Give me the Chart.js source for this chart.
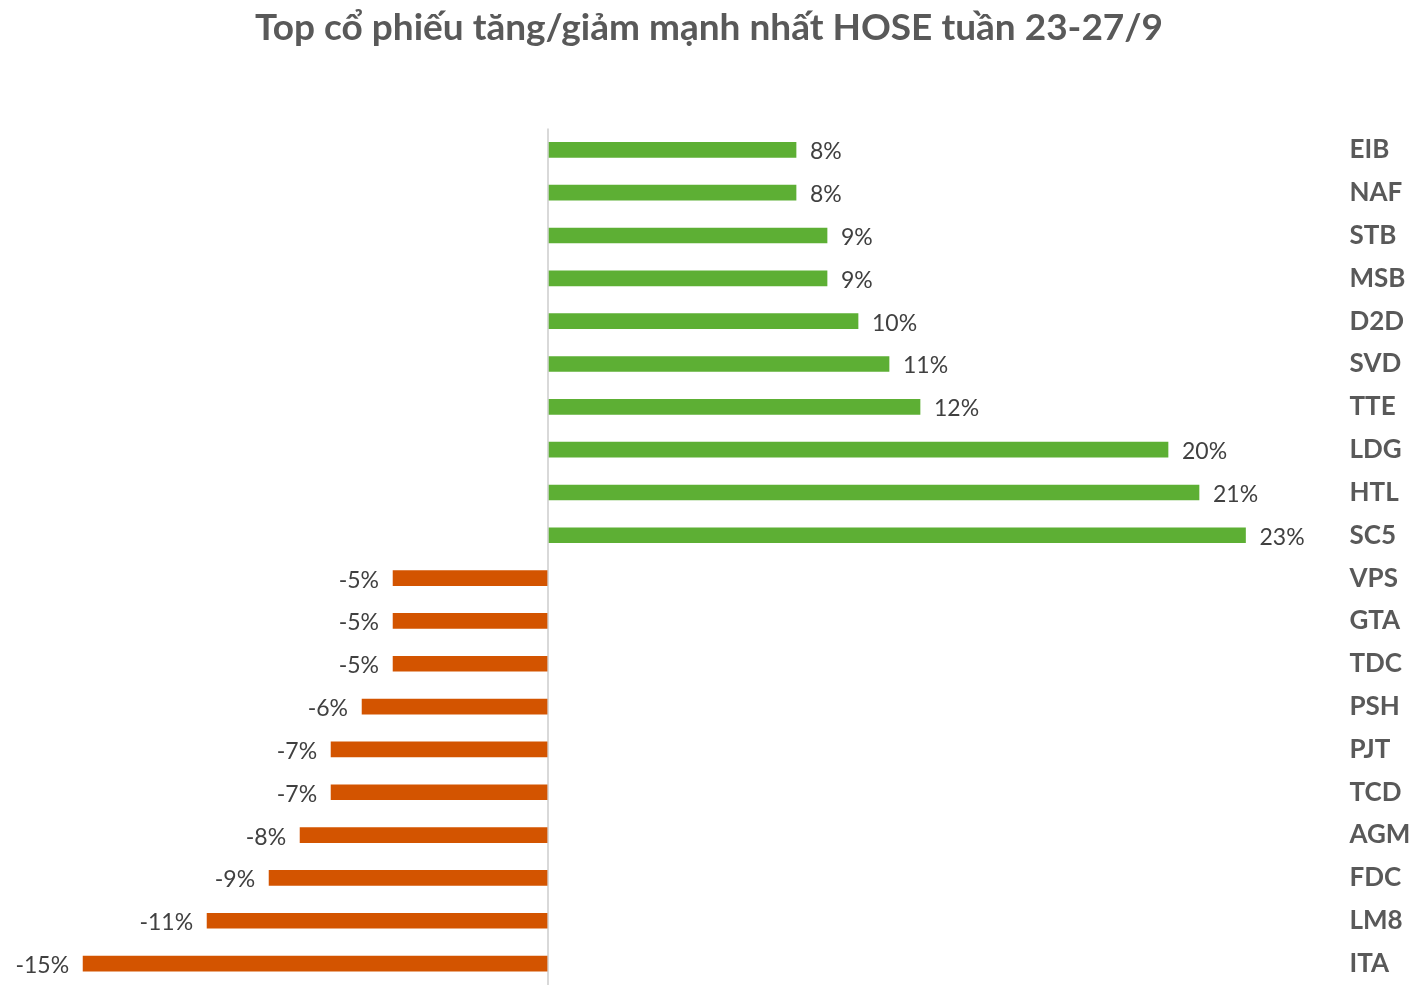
<!DOCTYPE html>
<html>
<head>
<meta charset="utf-8">
<script src="https://cdn.jsdelivr.net/npm/chart.js@4.4.1/dist/chart.umd.min.js"></script>
<style>
  html, body { margin: 0; padding: 0; background: #fff; }
  #wrap { width: 1418px; height: 996px; position: relative; }
</style>
</head>
<body>
<div id="wrap"><canvas id="myChart"></canvas></div>
<script>
// top gainers / losers on HOSE, week 23-27/9 (percent change)
var tickers = ['EIB', 'NAF', 'STB', 'MSB', 'D2D', 'SVD', 'TTE', 'LDG', 'HTL', 'SC5',
               'VPS', 'GTA', 'TDC', 'PSH', 'PJT', 'TCD', 'AGM', 'FDC', 'LM8', 'ITA'];
var changes = [8, 8, 9, 9, 10, 11, 12, 20, 21, 22.5,
               -5, -5, -5, -6, -7, -7, -8, -9, -11, -15];

var GREEN = '#5DAF34';
var ORANGE = '#D35400';

// draws "8%" style labels at the end of each bar
var barLabels = {
  id: 'barLabels',
  afterDatasetsDraw: function(chart) {
    var ctx = chart.ctx;
    var meta = chart.getDatasetMeta(0);
    ctx.save();
    ctx.font = '23px Lato';
    ctx.fillStyle = '#404040';
    ctx.textBaseline = 'middle';
    meta.data.forEach(function(bar, i) {
      var v = changes[i];
      var txt = Math.round(v) + '%';
      if (v >= 0) {
        ctx.textAlign = 'left';
        ctx.fillText(txt, bar.x + 14, bar.y + 2);
      } else {
        ctx.textAlign = 'right';
        ctx.fillText(txt, bar.x - 14, bar.y + 2);
      }
    });
    ctx.restore();
  }
};

var myChart = new Chart(document.getElementById('myChart').getContext('2d'), {
  type: 'bar',
  data: {
    labels: tickers,
    datasets: [{
      data: changes,
      backgroundColor: changes.map(function(v) { return v >= 0 ? GREEN : ORANGE; }),
      barThickness: 15
    }]
  },
  options: {
    indexAxis: 'y',
    responsive: true,
    maintainAspectRatio: false,
    animation: false,
    layout: { padding: { left: 0, right: 0, top: 0, bottom: 11 } },
    plugins: {
      legend: { display: false },
      tooltip: { enabled: false },
      title: {
        display: true,
        text: 'Top cổ phiếu tăng/giảm mạnh nhất HOSE tuần 23-27/9',
        color: '#595959',
        font: { family: 'Lato', size: 37, weight: 'bold' },
        padding: { top: 6, bottom: 78 }
      }
    },
    scales: {
      x: {
        min: -17.68,
        max: 25.5,
        ticks: { display: false },
        border: { display: false },
        afterBuildTicks: function(scale) { scale.ticks = [{ value: 0 }]; },
        afterFit: function(scale) { scale.height = 0; },
        grid: {
          drawTicks: false,
          lineWidth: 2,
          color: '#D9D9D9'
        }
      },
      y: {
        position: 'right',
        border: { display: false },
        grid: { display: false },
        ticks: {
          color: '#595959',
          padding: 3,
          font: { family: 'Lato', size: 26, weight: 'bold' }
        },
        afterFit: function(scale) {
          scale.width = 79.5;
          scale.paddingTop = 0;
          scale.paddingBottom = 0;
        }
      }
    }
  },
  plugins: [barLabels]
});
</script>
</body>
</html>
